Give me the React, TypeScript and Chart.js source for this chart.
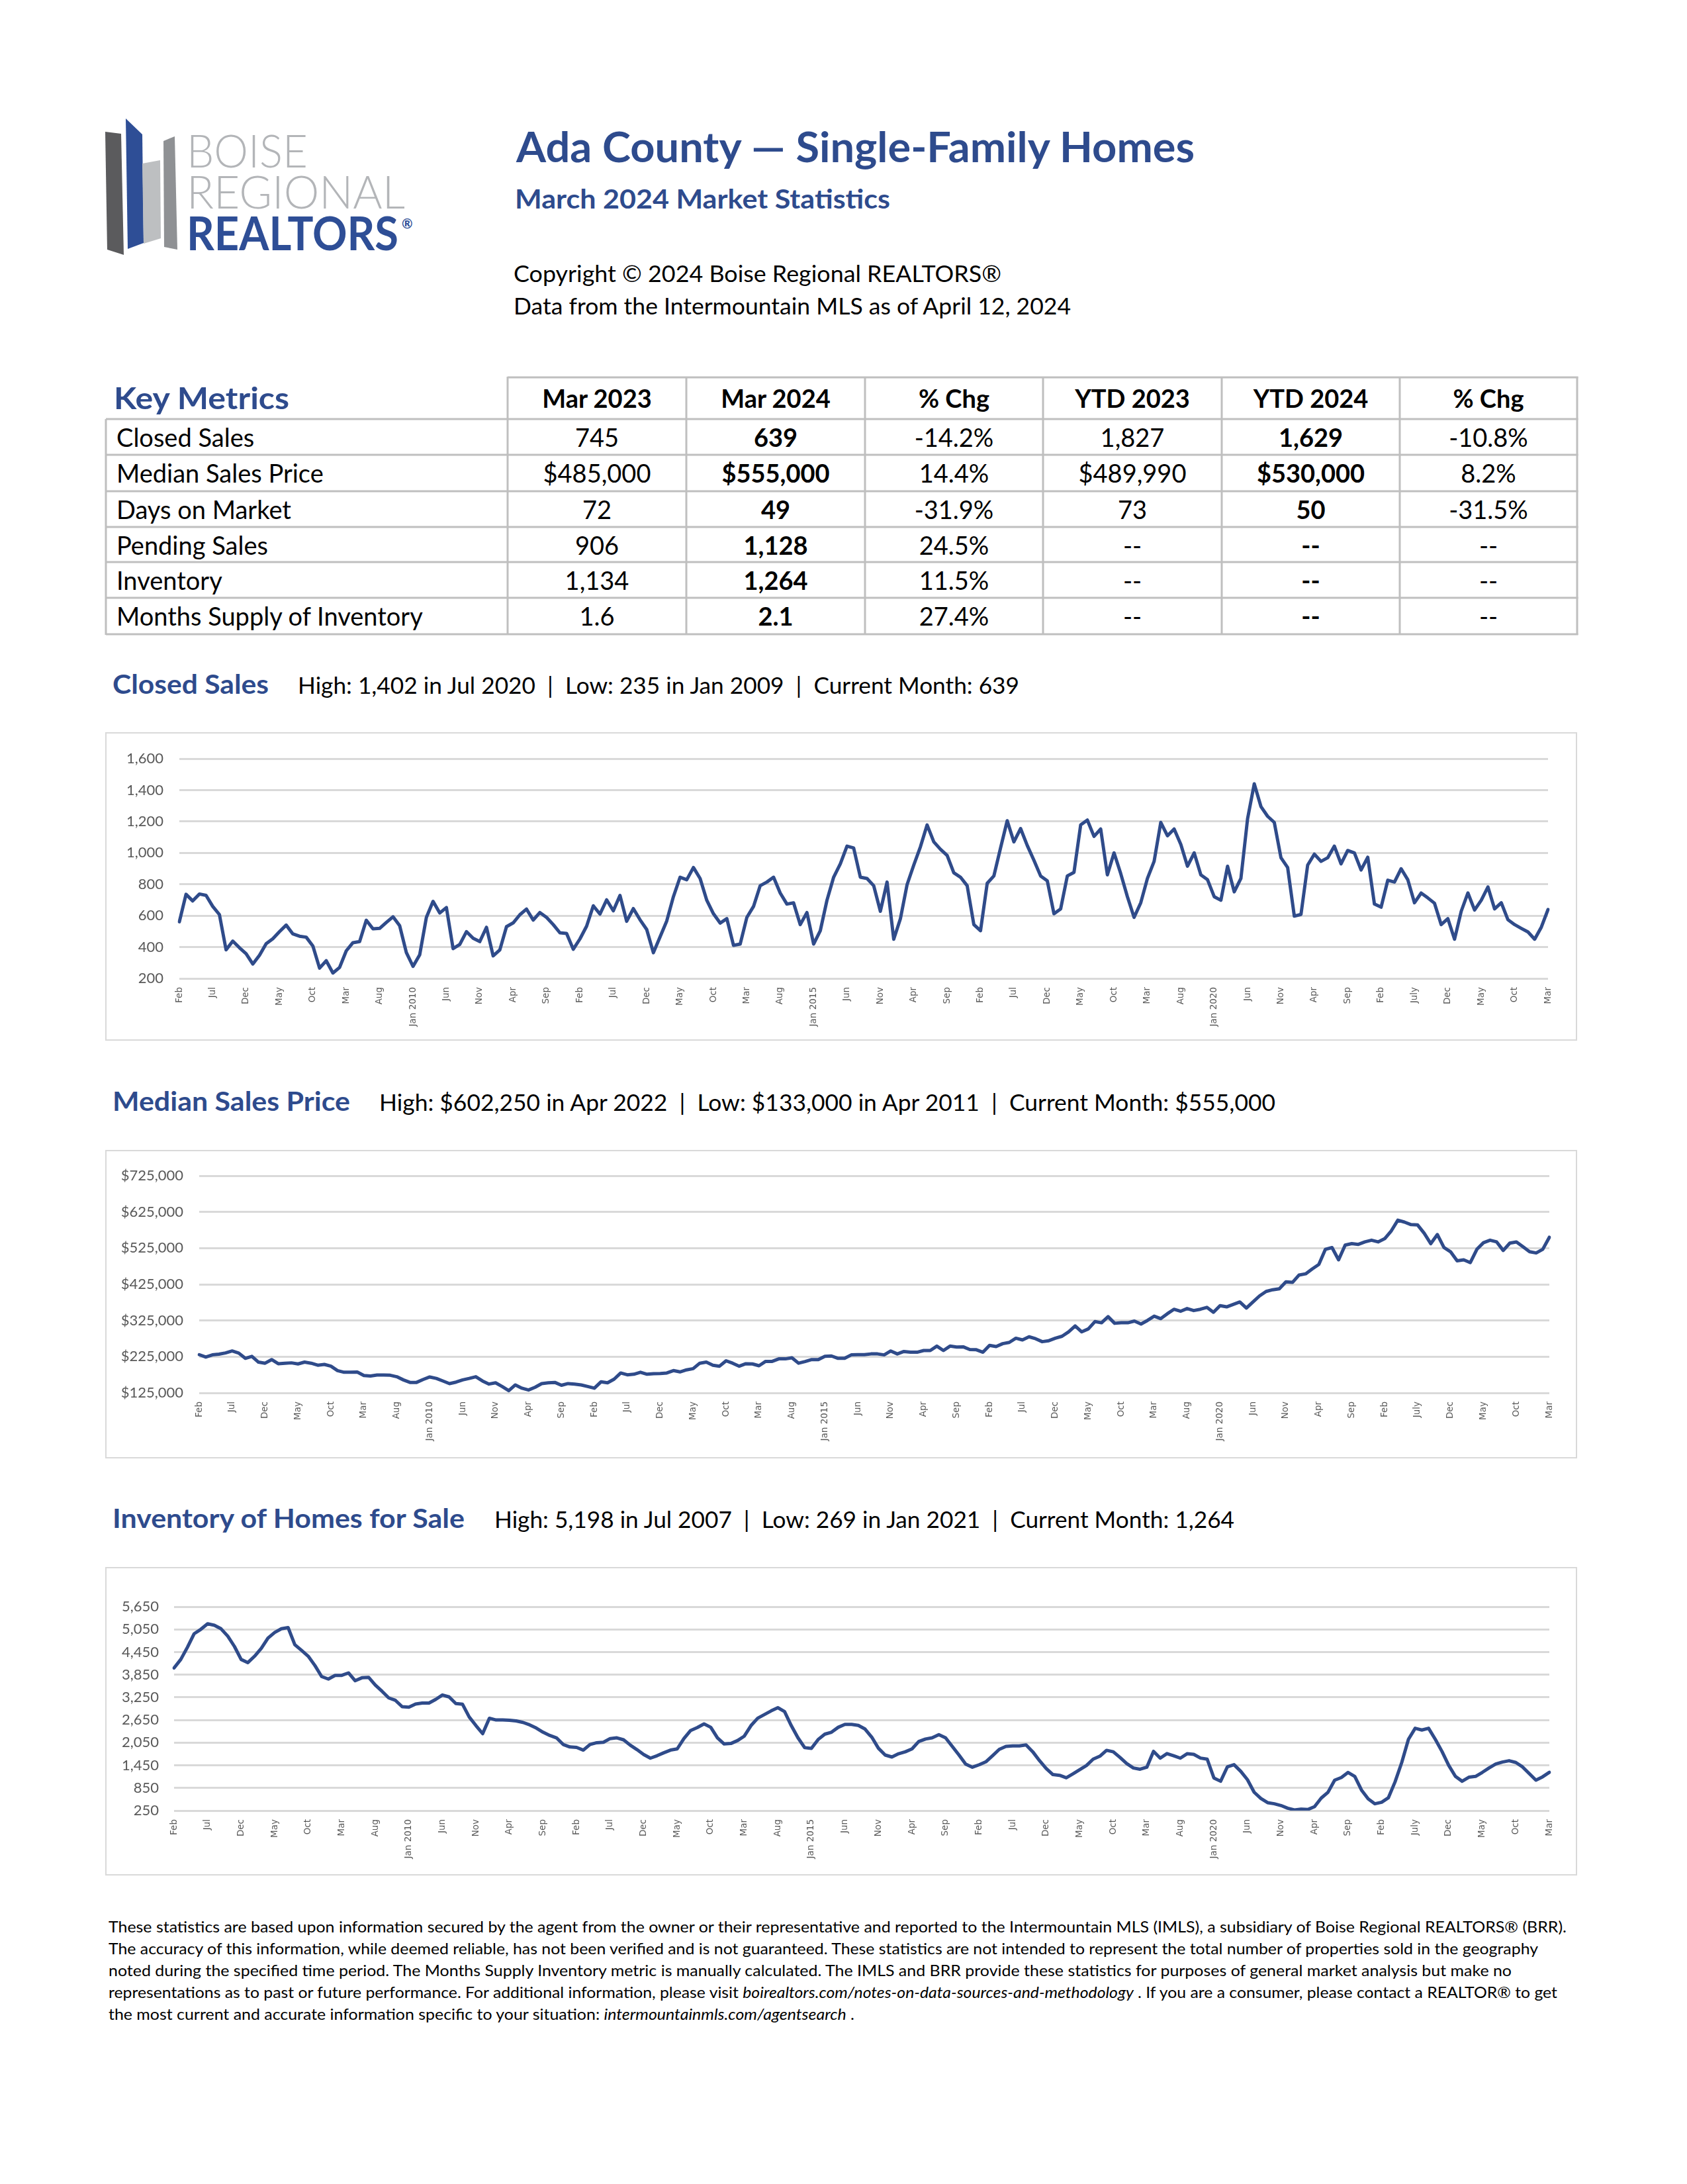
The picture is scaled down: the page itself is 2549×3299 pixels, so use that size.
import React, { useEffect, useRef } from 'react';
import { Chart, registerables } from 'chart.js';

Chart.register(...registerables);

// ---------- categories ----------
const MONTH_ABBR = ['Jan', 'Feb', 'Mar', 'Apr', 'May', 'Jun', 'Jul', 'Aug', 'Sep', 'Oct', 'Nov', 'Dec'];
const FIRST_YEAR = 2007;
const FIRST_MONTH_INDEX = 1; // Feb 2007
const MONTH_COUNT = 206; // Feb 2007 .. Mar 2024
const MONTHS: string[] = [];
for (let k = 0; k < MONTH_COUNT; k++) {
  const m = FIRST_MONTH_INDEX + k;
  MONTHS.push(MONTH_ABBR[m % 12] + ' ' + (FIRST_YEAR + Math.floor(m / 12)));
}

// every 5th month gets a tick label
const TICK_EVERY = 5;
const AXIS_TICK_LABELS = [
  'Feb', 'Jul', 'Dec', 'May', 'Oct', 'Mar', 'Aug', 'Jan 2010', 'Jun', 'Nov',
  'Apr', 'Sep', 'Feb', 'Jul', 'Dec', 'May', 'Oct', 'Mar', 'Aug', 'Jan 2015',
  'Jun', 'Nov', 'Apr', 'Sep', 'Feb', 'Jul', 'Dec', 'May', 'Oct', 'Mar',
  'Aug', 'Jan 2020', 'Jun', 'Nov', 'Apr', 'Sep', 'Feb', 'July', 'Dec', 'May',
  'Oct', 'Mar',
];

// ---------- series ----------
const CLOSED_SALES = [
  561, 736, 694, 738, 729, 659, 607, 382, 438, 396, 358, 292, 348, 421, 453, 498, 540, 484, 469, 463,
  407, 266, 313, 235, 270, 376, 428, 435, 571, 516, 519, 557, 593, 536, 365, 277, 351, 589, 691, 617,
  652, 390, 417, 498, 456, 435, 526, 344, 382, 530, 554, 606, 642, 572, 620, 589, 543, 491, 487, 386,
  452, 533, 663, 610, 701, 631, 729, 564, 645, 574, 512, 364, 465, 566, 721, 845, 829, 907, 837, 698,
  612, 553, 581, 411, 419, 589, 659, 791, 814, 845, 744, 674, 682, 543, 620, 419, 504, 698, 845, 930,
  1043, 1031, 845, 837, 791, 628, 814, 450, 581, 798, 922, 1039, 1178, 1070, 1023, 984, 873, 845, 791, 543,
  504, 806, 853, 1031, 1205, 1070, 1155, 1047, 953, 853, 822, 612, 643, 853, 876, 1178, 1209, 1105, 1152, 860,
  1000, 868, 721, 589, 682, 837, 946, 1194, 1109, 1152, 1054, 915, 1000, 860, 829, 721, 698, 915, 752, 837,
  1217, 1440, 1295, 1233, 1194, 969, 907, 597, 608, 922, 992, 946, 969, 1043, 930, 1015, 1000, 891, 972, 674,
  654, 826, 814, 899, 829, 682, 744, 713, 679, 543, 581, 450, 628, 745, 636, 698, 783, 643, 682, 574,
  543, 519, 496, 450, 527, 639,
];

const MEDIAN_PRICE = [
  230600, 223900, 230000, 232000, 235400, 240800, 235000, 220500, 226000, 210000,
  207000, 217000, 205600, 207000, 208000, 205000, 210000, 207000, 201500, 203600,
  198800, 186600, 182000, 182000, 182600, 173000, 171700, 174400, 174400, 173800,
  169700, 160900, 154000, 154000, 162000, 169000, 165000, 158000, 150700, 154800,
  161000, 165000, 169700, 158000, 149400, 152800, 142600, 131000, 147000, 138000,
  133000, 140600, 150700, 152800, 154000, 146000, 150700, 149400, 147000, 142600,
  138000, 155500, 152800, 163000, 180000, 175000, 176500, 182000, 176500, 178000,
  178500, 180000, 186600, 183000, 188700, 192000, 207000, 210000, 201500, 198800,
  213700, 207000, 198800, 205600, 205000, 200000, 212000, 212000, 219000, 219000,
  222000, 207000, 211700, 217000, 217000, 226000, 227000, 220500, 220500, 230000,
  230600, 230600, 232700, 232700, 230000, 240800, 232700, 239400, 237400, 237400,
  242000, 242000, 254300, 242000, 254300, 251600, 252300, 244900, 244200, 237400,
  256400, 253000, 261000, 264500, 276000, 271300, 280000, 274700, 266500, 269200,
  276000, 281400, 293600, 309900, 293600, 301700, 322000, 318700, 335600, 317300,
  318700, 318700, 323400, 315300, 325400, 337000, 330200, 343700, 356000, 350500,
  358000, 352500, 356000, 361300, 347800, 366000, 362700, 369500, 376200, 359300,
  376200, 393000, 405400, 410000, 412800, 431800, 430400, 450700, 454000, 467600,
  479800, 521800, 526600, 492700, 533400, 537400, 535400, 542200, 547000, 542200,
  551000, 572600, 602250, 597000, 590000, 589000, 566000, 537400, 562500, 526600,
  515000, 490000, 492700, 485000, 521800, 540000, 547000, 542200, 518500, 538800,
  542200, 528600, 515000, 511700, 521800, 555000,
];

const INVENTORY = [
  4027, 4254, 4579, 4936, 5053, 5198, 5160, 5066, 4871, 4598, 4254, 4170, 4339, 4546, 4819, 4968, 5066, 5098, 4644, 4494,
  4339, 4092, 3800, 3735, 3832, 3832, 3897, 3690, 3768, 3780, 3573, 3411, 3235, 3170, 3002, 2989, 3073, 3099, 3099, 3196,
  3313, 3261, 3086, 3067, 2729, 2502, 2288, 2697, 2651, 2651, 2645, 2625, 2586, 2522, 2437, 2327, 2242, 2178, 2002, 1937,
  1924, 1853, 2002, 2048, 2061, 2158, 2178, 2126, 1983, 1866, 1736, 1639, 1704, 1782, 1853, 1885, 2158, 2372, 2450, 2547,
  2457, 2178, 2015, 2028, 2106, 2223, 2502, 2697, 2794, 2891, 2976, 2872, 2502, 2178, 1918, 1898, 2132, 2275, 2327, 2457,
  2534, 2534, 2508, 2410, 2195, 1900, 1723, 1670, 1756, 1808, 1885, 2080, 2145, 2178, 2262, 2178, 1950, 1723, 1483, 1399,
  1464, 1542, 1704, 1872, 1950, 1963, 1963, 1989, 1808, 1574, 1366, 1204, 1185, 1120, 1224, 1334, 1444, 1613, 1691, 1847,
  1808, 1658, 1496, 1379, 1347, 1400, 1820, 1640, 1760, 1704, 1639, 1756, 1741, 1642, 1613, 1115, 1028, 1408, 1466, 1291,
  1069, 737, 572, 461, 432, 385, 314, 269, 291, 279, 355, 583, 735, 1057, 1127, 1262, 1156, 794, 560, 431,
  472, 589, 1010, 1525, 2139, 2431, 2385, 2431, 2139, 1817, 1449, 1156, 1028, 1134, 1156, 1262, 1379, 1484, 1537, 1572,
  1525, 1408, 1232, 1057, 1145, 1264,
];

// ---------- table ----------
const TABLE_HEADERS = ['Mar 2023', 'Mar 2024', '% Chg', 'YTD 2023', 'YTD 2024', '% Chg'];
const TABLE_ROW_NAMES = ['Closed Sales', 'Median Sales Price', 'Days on Market', 'Pending Sales', 'Inventory', 'Months Supply of Inventory'];
const TABLE_VALUES = [
  ['745', '639', '-14.2%', '1,827', '1,629', '-10.8%'],
  ['$485,000', '$555,000', '14.4%', '$489,990', '$530,000', '8.2%'],
  ['72', '49', '-31.9%', '73', '50', '-31.5%'],
  ['906', '1,128', '24.5%', '--', '--', '--'],
  ['1,134', '1,264', '11.5%', '--', '--', '--'],
  ['1.6', '2.1', '27.4%', '--', '--', '--'],
];
const BOLD_COLUMNS = [1, 4];

// ---------- styles ----------
const BLUE = '#2E4B8D';
const LINE_BLUE = '#2F4B8A';
const GRID = '#d9d9d9';
const AXIS_TEXT = '#595959';
const TABLE_LINE = '#bfbfbf';
const FONT = 'Lato, "Open Sans", sans-serif';

type ChartProps = {
  left: number; top: number; width: number; height: number;
  data: number[]; yMin: number; yMax: number; yStep: number;
  yFormat: (v: number) => string;
  pad: { left: number; right: number; top: number; bottom: number };
  yAxisWidth: number; xAxisHeight: number; yTickPad: number; xTickPad: number;
};

function LineChart(p: ChartProps) {
  const ref = useRef<HTMLCanvasElement>(null);
  useEffect(() => {
    const chart = new Chart(ref.current as HTMLCanvasElement, {
      type: 'line',
      data: {
        labels: MONTHS,
        datasets: [{
          data: p.data,
          borderColor: LINE_BLUE,
          borderWidth: 5,
          pointRadius: 0,
          tension: 0,
          fill: false,
          borderJoinStyle: 'round',
          borderCapStyle: 'round',
        }],
      },
      options: {
        responsive: false,
        animation: false,
        devicePixelRatio: 1,
        layout: { padding: p.pad },
        plugins: { legend: { display: false }, tooltip: { enabled: false } },
        scales: {
          x: {
            grid: { display: false, drawTicks: false },
            border: { display: false },
            ticks: {
              autoSkip: false,
              minRotation: 90,
              maxRotation: 90,
              padding: p.xTickPad,
              color: AXIS_TEXT,
              font: { family: '"DejaVu Sans", Verdana, sans-serif', size: 13.5 },
              callback: (_v: any, i: number) => (i % TICK_EVERY === 0 ? AXIS_TICK_LABELS[i / TICK_EVERY] : ''),
            },
            afterFit: (s: any) => { s.height = p.xAxisHeight; },
          },
          y: {
            min: p.yMin,
            max: p.yMax,
            border: { display: false },
            grid: { color: GRID, lineWidth: 3, drawTicks: false },
            ticks: {
              stepSize: p.yStep,
              padding: p.yTickPad,
              color: AXIS_TEXT,
              font: { family: 'Lato', size: 22 },
              callback: (v: any) => p.yFormat(Number(v)),
            },
            afterFit: (s: any) => { s.width = p.yAxisWidth; },
          },
        },
      },
    } as any);
    return () => chart.destroy();
  }, []);
  return (
    <canvas
      ref={ref}
      width={p.width}
      height={p.height}
      style={{ position: 'absolute', left: p.left, top: p.top, width: p.width, height: p.height }}
    />
  );
}

const fmtNum = (v: number) => v.toLocaleString('en-US');
const fmtDollar = (v: number) => '$' + v.toLocaleString('en-US');

function T(props: any) {
  const { x, y, size, weight = 400, fill = '#000', len, anchor = 'start', italicParts, children, family = FONT } = props;
  return (
    <text
      x={x}
      y={y}
      fontFamily={family}
      fontSize={size}
      fontWeight={weight}
      fill={fill}
      textAnchor={anchor}
      textLength={len}
      lengthAdjust={len ? 'spacingAndGlyphs' : undefined}
      style={{ whiteSpace: 'pre' }}
    >
      {children}
    </text>
  );
}

const COL_X = [160, 767, 1037, 1307, 1576, 1846, 2115, 2383];
const ROW_Y = [633, 687, 742, 796, 849, 903, 958];

function Page() {
  const colCenters = COL_X.slice(1, -1).map((x, i) => (x + COL_X[i + 2]) / 2);
  return (
    <svg width={2549} height={3299} style={{ position: 'absolute', left: 0, top: 0 }}>
      {/* logo */}
      <polygon points="159,199 183,202 187,385 162,377" fill="#5b5b5d" />
      <polygon points="190,179 215,203 217,367 193,376" fill="#2E4E96" />
      <polygon points="215,247 242,242 243,360 217,368" fill="#bdbfc1" />
      <polygon points="247,213 264,206 268,377 248,373" fill="#8f9194" />
      <T x={282} y={253} size={69} weight={300} fill="#b3b5b8" len={183}>BOISE</T>
      <T x={282} y={315} size={69} weight={300} fill="#b3b5b8" len={330}>REGIONAL</T>
      <T x={282} y={378} size={70} weight={700} fill="#2E4E96" len={320}>REALTORS</T>
      <T x={607} y={345} size={20} weight={700} fill="#2E4E96">®</T>

      {/* header */}
      <T x={780} y={245} size={64} weight={700} fill={BLUE} len={1025}>Ada County — Single-Family Homes</T>
      <T x={778} y={315} size={40} weight={700} fill={BLUE} len={567}>March 2024 Market Statistics</T>
      <T x={776} y={426} size={34} len={737}>Copyright © 2024 Boise Regional REALTORS®</T>
      <T x={776} y={475} size={34} len={842}>Data from the Intermountain MLS as of April 12, 2024</T>

      {/* table lines */}
      <rect x={COL_X[1]} y={568.5} width={COL_X[7] - COL_X[1] + 1.5} height={3} fill={TABLE_LINE} />
      {ROW_Y.map((y) => (
        <rect key={'h' + y} x={COL_X[0]} y={y - 1.5} width={COL_X[7] - COL_X[0] + 1.5} height={3} fill={TABLE_LINE} />
      ))}
      <rect x={COL_X[0] - 1.5} y={ROW_Y[0]} width={3} height={ROW_Y[6] - ROW_Y[0] + 1} fill={TABLE_LINE} />
      {COL_X.slice(1).map((x) => (
        <rect key={'v' + x} x={x - 1.5} y={569} width={3} height={ROW_Y[6] - 569 + 1} fill={TABLE_LINE} />
      ))}
      <T x={172} y={618} size={46} weight={700} fill={BLUE} len={265}>Key Metrics</T>
      {TABLE_HEADERS.map((h, i) => (
        <T key={'th' + i} x={colCenters[i]} y={616} size={38} weight={700} anchor="middle">{h}</T>
      ))}
      {TABLE_ROW_NAMES.map((name, r) => (
        <g key={'r' + r}>
          <T x={176} y={ROW_Y[r] + 42} size={38}>{name}</T>
          {TABLE_VALUES[r].map((v, c) => (
            <T key={c} x={colCenters[c]} y={ROW_Y[r] + 42} size={38} weight={BOLD_COLUMNS.includes(c) ? 700 : 400} anchor="middle">{v}</T>
          ))}
        </g>
      ))}

      {/* section titles */}
      <T x={170} y={1048} size={40} weight={700} fill={BLUE} len={236}>Closed Sales</T>
      <T x={450} y={1048} size={34} len={1090}>High: 1,402 in Jul 2020  |  Low: 235 in Jan 2009  |  Current Month: 639</T>
      <T x={170} y={1678} size={40} weight={700} fill={BLUE} len={359}>Median Sales Price</T>
      <T x={573} y={1678} size={34} len={1354}>High: $602,250 in Apr 2022  |  Low: $133,000 in Apr 2011  |  Current Month: $555,000</T>
      <T x={170} y={2308} size={40} weight={700} fill={BLUE} len={532}>Inventory of Homes for Sale</T>
      <T x={747} y={2308} size={34} len={1118}>High: 5,198 in Jul 2007  |  Low: 269 in Jan 2021  |  Current Month: 1,264</T>

      {/* chart boxes */}
      <rect x={160} y={1107} width={2222} height={464} fill="none" stroke={GRID} strokeWidth={2} />
      <rect x={160} y={1738} width={2222} height={464} fill="none" stroke={GRID} strokeWidth={2} />
      <rect x={160} y={2368} width={2222} height={464} fill="none" stroke={GRID} strokeWidth={2} />

      {/* footer */}
      <T x={164} y={2919} size={23} len={2203}>These statistics are based upon information secured by the agent from the owner or their representative and reported to the Intermountain MLS (IMLS), a subsidiary of Boise Regional REALTORS® (BRR).</T>
      <T x={164} y={2952} size={23} len={2160}>The accuracy of this information, while deemed reliable, has not been verified and is not guaranteed. These statistics are not intended to represent the total number of properties sold in the geography</T>
      <T x={164} y={2985} size={23} len={2120}>noted during the specified time period. The Months Supply Inventory metric is manually calculated. The IMLS and BRR provide these statistics for purposes of general market analysis but make no</T>
      <text x={164} y={3018} fontFamily={FONT} fontSize={23} textLength={2189} lengthAdjust="spacingAndGlyphs" style={{ whiteSpace: 'pre' }}>
        representations as to past or future performance. For additional information, please visit <tspan fontStyle="italic">boirealtors.com/notes-on-data-sources-and-methodology</tspan> . If you are a consumer, please contact a REALTOR® to get
      </text>
      <text x={164} y={3051} fontFamily={FONT} fontSize={23} textLength={1127} lengthAdjust="spacingAndGlyphs" style={{ whiteSpace: 'pre' }}>
        the most current and accurate information specific to your situation: <tspan fontStyle="italic">intermountainmls.com/agentsearch</tspan> .
      </text>
    </svg>
  );
}

export default function App() {
  return (
    <div style={{ position: 'absolute', left: 0, top: 0, width: 2549, height: 3299, background: '#ffffff', overflow: 'hidden' }}>
      <Page />
      <LineChart
        left={159} top={1106} width={2224} height={466}
        data={CLOSED_SALES} yMin={200} yMax={1600} yStep={200} yFormat={fmtNum}
        pad={{ left: 12, right: 44, top: 40, bottom: 0 }}
        yAxisWidth={100} xAxisHeight={94} yTickPad={24} xTickPad={13}
      />
      <LineChart
        left={159} top={1737} width={2224} height={466}
        data={MEDIAN_PRICE} yMin={125000} yMax={725000} yStep={100000} yFormat={fmtDollar}
        pad={{ left: 12, right: 42, top: 39, bottom: 0 }}
        yAxisWidth={130} xAxisHeight={99} yTickPad={24} xTickPad={13}
      />
      <LineChart
        left={159} top={2367} width={2224} height={466}
        data={INVENTORY} yMin={250} yMax={5650} yStep={600} yFormat={fmtNum}
        pad={{ left: 12, right: 42, top: 60, bottom: 0 }}
        yAxisWidth={92} xAxisHeight={98} yTickPad={23} xTickPad={13}
      />
    </div>
  );
}
